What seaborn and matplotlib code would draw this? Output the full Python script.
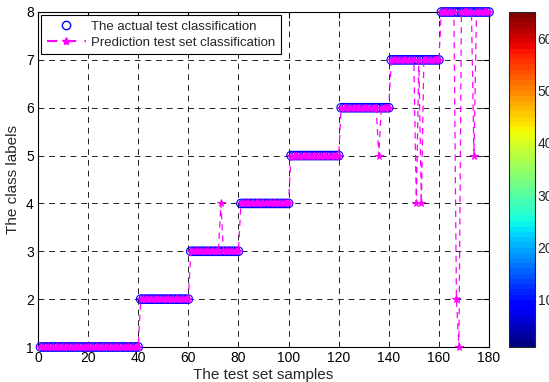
import numpy as np
import pandas as pd
import matplotlib
matplotlib.use("Agg")
import matplotlib.pyplot as plt
from matplotlib.lines import Line2D
import seaborn as sns

# Test set: class label and number of samples per class
class_labels = [1, 2, 3, 4, 5, 6, 7, 8]
class_sizes = [40, 20, 20, 20, 20, 20, 20, 20]

# Samples whose predicted class differs from the actual one (sample index -> predicted class)
wrong_samples = [73, 136, 151, 153, 167, 168, 174]
wrong_predictions = [4, 5, 4, 4, 2, 1, 5]

x_ticks = [0, 20, 40, 60, 80, 100, 120, 140, 160, 180]
y_ticks = [1, 2, 3, 4, 5, 6, 7, 8]
cbar_ticks = [10, 20, 30, 40, 50, 60]

actual = np.repeat(class_labels, class_sizes)
samples = np.arange(1, len(actual) + 1)
predicted = actual.copy()
for s, p in zip(wrong_samples, wrong_predictions):
    predicted[s - 1] = p

df = pd.DataFrame({"sample": samples, "actual": actual, "predicted": predicted})

sns.set_style("white")
plt.rcParams["font.family"] = ["Liberation Sans", "DejaVu Sans"]

fig = plt.figure(figsize=(5.49, 3.82), dpi=100)
ax = fig.add_axes([0.0692, 0.0916, 0.8215, 0.877])
cax = fig.add_axes([0.927, 0.0916, 0.0474, 0.877])

sns.scatterplot(data=df, x="sample", y="actual", ax=ax, marker="o", s=38,
                facecolor="none", edgecolor="blue", linewidth=0.8,
                clip_on=False, zorder=3, legend=False)
sns.lineplot(data=df, x="sample", y="predicted", ax=ax, color="#ff00ff",
             linestyle=(0, (5, 4)), linewidth=0.9, marker="*", markersize=5.5,
             markeredgecolor="#ff00ff", clip_on=False, zorder=4, legend=False)

ax.set_xlim(0, 180)
ax.set_ylim(1, 8)
ax.set_xticks(x_ticks)
ax.set_yticks(y_ticks)
ax.tick_params(direction="in", length=4, labelsize=10, top=True, right=True,
               pad=3, colors="black")
ax.grid(True, color="#222222", linestyle=(0, (6, 5)), linewidth=0.7)
for sp in ax.spines.values():
    sp.set_color("black")
    sp.set_linewidth(0.8)
ax.set_xlabel("The test set samples", fontsize=11, labelpad=2)
ax.set_ylabel("The class labels", fontsize=11, labelpad=4)

handles = [
    Line2D([], [], marker="o", linestyle="none", markerfacecolor="none",
           markeredgecolor="blue", markersize=6),
    Line2D([], [], marker="*", linestyle=(0, (5, 4)), color="#ff00ff",
           markersize=6),
]
leg = ax.legend(handles, ["The actual test classification",
                          "Prediction test set classification"],
                loc="upper left", fontsize=9.5, frameon=True, fancybox=False,
                edgecolor="black", framealpha=1, borderaxespad=0.25,
                handlelength=3.0, handletextpad=0.4, borderpad=0.4,
                labelspacing=0.3)
leg.get_frame().set_linewidth(0.8)

# Colour scale bar (jet, 64 levels)
cmap = plt.get_cmap("jet", 64)
norm = matplotlib.colors.Normalize(vmin=1, vmax=65)
cb = fig.colorbar(matplotlib.cm.ScalarMappable(norm=norm, cmap=cmap), cax=cax)
cb.set_ticks(cbar_ticks)
cb.ax.tick_params(direction="in", length=4, labelsize=10, pad=2)
cb.outline.set_linewidth(0.8)

fig.savefig("out.png", dpi=100)
